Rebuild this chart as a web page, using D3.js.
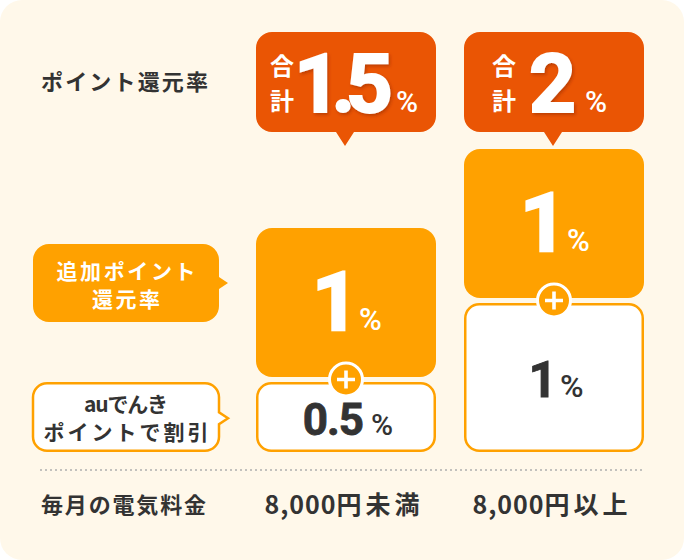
<!DOCTYPE html>
<html lang="ja">
<head>
<meta charset="utf-8">
<script src="https://cdn.jsdelivr.net/npm/d3@7/dist/d3.min.js"></script>
<style>
  html, body { margin: 0; padding: 0; background: #ffffff; }
  svg { display: block; }
</style>
</head>
<body>
<div id="chart"></div>
<script>
// ---------- data ----------
const categories = ["8,000円未満", "8,000円以上"];      // 毎月の電気料金
const discountRate = [0.5, 1];                          // auでんきポイントで割引 (%)
const bonusRate = [1, 1];                               // 追加ポイント還元率 (%)
const totalRate = [1.5, 2];                             // 合計 (%)
const rowLabels = ["ポイント還元率", "毎月の電気料金"];
const bonusLabel = ["追加ポイント", "還元率"];
const discountLabel = ["auでんき", "ポイントで割引"];
const totalPrefix = ["合", "計"];
const unit = "%";

// ---------- layout ----------
const W = 684, H = 560;
const C = {
  cream: "#FFF8EA", orange: "#FFA100", red: "#EA5504", dark: "#333333", white: "#FFFFFF", dot: "#AFAFAF"
};
const JP = "'Noto Sans CJK JP', 'Noto Sans', sans-serif";
const NUM = "Roboto, 'Noto Sans', sans-serif";

const svg = d3.select("#chart").append("svg")
  .attr("width", W).attr("height", H).attr("viewBox", `0 0 ${W} ${H}`);

const defs = svg.append("defs");
defs.append("filter").attr("id", "numShadow").attr("x", "-20%").attr("y", "-20%").attr("width", "140%").attr("height", "140%")
  .append("feDropShadow").attr("dx", 1.5).attr("dy", 2).attr("stdDeviation", 1.6)
  .attr("flood-color", "#8a2400").attr("flood-opacity", 0.45);

svg.append("rect").attr("x", 0).attr("y", 0).attr("width", W).attr("height", H)
  .attr("rx", 22).attr("fill", C.cream);

// scales
const x = d3.scaleBand().domain(categories).range([256, 644]).paddingInner(28 / 208).paddingOuter(0);
const hScale = d3.scaleLinear().domain([0.5, 1]).range([70, 149]);
const baseY = 452, gap = 5;
const bw = x.bandwidth();

function bubble(x0, y0, w, h, r, tail) {
  const p = d3.path();
  p.moveTo(x0 + r, y0);
  p.lineTo(x0 + w - r, y0);
  p.arcTo(x0 + w, y0, x0 + w, y0 + r, r);
  if (tail && tail.side === "right") {
    p.lineTo(x0 + w, tail.pos - tail.half);
    p.lineTo(x0 + w + tail.len, tail.pos);
    p.lineTo(x0 + w, tail.pos + tail.half);
  }
  p.lineTo(x0 + w, y0 + h - r);
  p.arcTo(x0 + w, y0 + h, x0 + w - r, y0 + h, r);
  if (tail && tail.side === "bottom") {
    p.lineTo(tail.pos + tail.half, y0 + h);
    p.lineTo(tail.pos, y0 + h + tail.len);
    p.lineTo(tail.pos - tail.half, y0 + h);
  }
  p.lineTo(x0 + r, y0 + h);
  p.arcTo(x0, y0 + h, x0, y0 + h - r, r);
  p.lineTo(x0, y0 + r);
  p.arcTo(x0, y0, x0 + r, y0, r);
  p.closePath();
  return p.toString();
}

const fmt = d3.format("~g");

// build segment data
const cols = categories.map((c, i) => {
  const wTop = baseY - hScale(discountRate[i]);
  const oBot = wTop - gap;
  const oTop = oBot - hScale(bonusRate[i]);
  return { cat: c, i, cx: x(c) + bw / 2, x0: x(c), wTop, wBot: baseY, oTop, oBot };
});

// ---------- white (discount) boxes ----------
const whiteStyle = [{ fs: 44, pfs: 30, pdx: 8 }, { fs: 50, pfs: 32, pdx: 4 }];
cols.forEach(d => {
  const g = svg.append("g");
  g.append("path")
    .attr("d", bubble(d.x0 + 1.25, d.wTop + 1.25, bw - 2.5, d.wBot - d.wTop - 2.5, 14))
    .attr("fill", C.white).attr("stroke", C.orange).attr("stroke-width", 2.5);
  const st = whiteStyle[d.i];
  const cy = (d.wTop + d.wBot) / 2;
  const t = g.append("text").attr("x", d.cx + 2).attr("y", cy + st.fs * 0.355 + 2)
    .attr("text-anchor", "middle").attr("fill", C.dark)
    .attr("font-family", NUM).attr("font-weight", 700);
  t.append("tspan").attr("font-size", st.fs).attr("letter-spacing", -1)
    .attr("stroke", C.dark).attr("stroke-width", 0.8).text(fmt(discountRate[d.i]));
  t.append("tspan").attr("font-size", st.pfs).attr("font-weight", 500).attr("dx", st.pdx).text(unit);
});

// ---------- orange (bonus) boxes ----------
cols.forEach(d => {
  const g = svg.append("g");
  g.append("path")
    .attr("d", bubble(d.x0, d.oTop, bw, d.oBot - d.oTop, 16))
    .attr("fill", C.orange);
  const cy = (d.oTop + d.oBot) / 2;
  const t = g.append("text").attr("x", d.cx + 1).attr("y", cy + 27)
    .attr("text-anchor", "middle").attr("fill", C.white)
    .attr("font-family", NUM).attr("font-weight", 700);
  t.append("tspan").attr("font-size", 82).attr("stroke", C.white).attr("stroke-width", 2.5).text(fmt(bonusRate[d.i]));
  t.append("tspan").attr("font-size", 31).attr("font-weight", 500).attr("dx", 0).text(unit);
});

// ---------- plus markers ----------
cols.forEach(d => {
  const cy = d.wTop - gap / 2;
  const g = svg.append("g").attr("transform", `translate(${d.cx},${cy})`);
  g.append("circle").attr("r", 16.5).attr("fill", C.orange).attr("stroke", C.white).attr("stroke-width", 3);
  g.append("path").attr("d", "M-9,0H9M0,-9V9").attr("stroke", C.white).attr("stroke-width", 3.6).attr("fill", "none");
});

// ---------- total badges ----------
const badgeTop = 32, badgeH = 100;
const badgeLayout = [
  { kdx: -64, ndx: -52, pdx: 50, ls: -9.5 },
  { kdx: -50, ndx: -25, pdx: 31, ls: 0 }
];
cols.forEach(d => {
  const L = badgeLayout[d.i];
  const g = svg.append("g");
  g.append("path")
    .attr("d", bubble(d.x0, badgeTop, bw, badgeH, 16, { side: "bottom", pos: d.cx - 1, half: 9, len: 14 }))
    .attr("fill", C.red);
  totalPrefix.forEach((k, j) => {
    g.append("text").attr("x", d.cx + L.kdx).attr("y", 66 + j * 35 + 24 * 0.36)
      .attr("text-anchor", "middle").attr("fill", C.white)
      .attr("font-family", JP).attr("font-weight", 700).attr("font-size", 24).text(k);
  });
  g.append("text").attr("x", d.cx + L.ndx).attr("y", 112)
    .attr("fill", C.white).attr("font-family", NUM).attr("font-weight", 700)
    .attr("font-size", 82).attr("letter-spacing", L.ls)
    .attr("stroke", C.white).attr("stroke-width", 2)
    .attr("filter", "url(#numShadow)")
    .text(fmt(totalRate[d.i]));
  g.append("text").attr("x", d.cx + L.pdx).attr("y", 112)
    .attr("fill", C.white).attr("font-family", NUM).attr("font-weight", 500)
    .attr("font-size", 30).text(unit);
});

// ---------- left callouts ----------
const calX = 33, calW = 186;
// bonus callout (orange)
{
  const top = cols[0].oTop + 16, h = 78;
  svg.append("path")
    .attr("d", bubble(calX, top, calW, h, 16, { side: "right", pos: top + 39, half: 6, len: 9 }))
    .attr("fill", C.orange);
  const lines = svg.append("text").attr("text-anchor", "middle").attr("fill", C.white)
    .attr("font-family", JP).attr("font-weight", 700).attr("font-size", 21);
  lines.append("tspan").attr("x", calX + calW / 2).attr("y", top + 27 + 8).attr("textLength", 139).attr("lengthAdjust", "spacing").text(bonusLabel[0]);
  lines.append("tspan").attr("x", calX + calW / 2).attr("y", top + 55 + 8).attr("textLength", 68).attr("lengthAdjust", "spacing").text(bonusLabel[1]);
}
// discount callout (white)
{
  const top = cols[0].wTop + 1.25, h = cols[0].wBot - cols[0].wTop - 2.5;
  svg.append("path")
    .attr("d", bubble(calX, top, calW, h, 14, { side: "right", pos: top + 35, half: 6, len: 9 }))
    .attr("fill", C.white).attr("stroke", C.orange).attr("stroke-width", 2.5);
  const lines = svg.append("text").attr("text-anchor", "middle").attr("fill", C.dark)
    .attr("font-family", JP).attr("font-weight", 700).attr("font-size", 21);
  lines.append("tspan").attr("x", calX + calW / 2).attr("y", 404 + 8).attr("textLength", 84).attr("lengthAdjust", "spacing").text(discountLabel[0]);
  lines.append("tspan").attr("x", calX + calW / 2).attr("y", 432 + 8).attr("textLength", 165).attr("lengthAdjust", "spacing").text(discountLabel[1]);
}

// ---------- row labels ----------
svg.append("text").attr("x", 41).attr("y", 82 + 8).attr("fill", C.dark)
  .attr("font-family", JP).attr("font-weight", 700).attr("font-size", 22)
  .attr("textLength", 167).attr("lengthAdjust", "spacing").text(rowLabels[0]);
svg.append("text").attr("x", 41).attr("y", 505 + 8).attr("fill", C.dark)
  .attr("font-family", JP).attr("font-weight", 700).attr("font-size", 22)
  .attr("textLength", 165).attr("lengthAdjust", "spacing").text(rowLabels[1]);

// ---------- divider ----------
svg.append("line").attr("x1", 40).attr("x2", 642).attr("y1", 470).attr("y2", 470)
  .attr("stroke", C.dot).attr("stroke-width", 1.5).attr("stroke-dasharray", "2,3");

// ---------- category axis labels ----------
const axisG = svg.append("g").attr("transform", `translate(0,${505 + 9})`);
const catText = axisG.selectAll("text").data(categories).join("text")
  .attr("x", d => x(d) + bw / 2 - 2)
  .attr("text-anchor", "middle").attr("fill", C.dark)
  .attr("font-family", JP).attr("font-weight", 700).attr("font-size", 25);
catText.each(function (d) {
  const m = d.match(/^([\d,]+)(.*)$/);
  const t = d3.select(this);
  t.append("tspan").attr("letter-spacing", 1).text(m[1]);
  t.append("tspan").attr("letter-spacing", 4).text(m[2]);
});
</script>
</body>
</html>
